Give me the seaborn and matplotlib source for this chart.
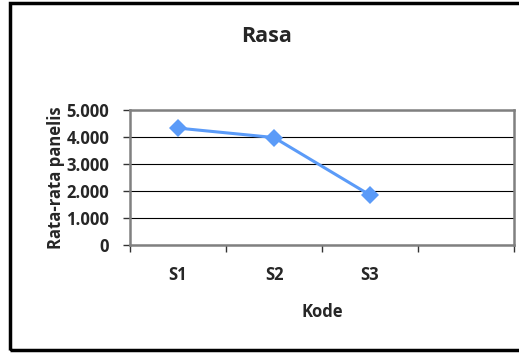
import matplotlib
matplotlib.use("Agg")
import matplotlib.pyplot as plt
from matplotlib.patches import Rectangle
from matplotlib.ticker import FixedLocator, FuncFormatter
import seaborn as sns
import pandas as pd

kode = ["S1", "S2", "S3"]
nilai = [4.33, 3.98, 1.85]
y_ticks = [0, 1, 2, 3, 4, 5]

sns.set_theme(style="white")
plt.rcParams["font.family"] = ["Open Sans", "DejaVu Sans"]
plt.rcParams["font.weight"] = "bold"

df = pd.DataFrame({"Kode": kode, "Nilai": nilai})

fig = plt.figure(figsize=(5.19, 3.54), dpi=100)
ax = fig.add_axes([130 / 519, 1 - 245 / 354, 384 / 519, 135 / 354])

sns.lineplot(data=df, x="Kode", y="Nilai", ax=ax, color="#5B9BF8", linewidth=2.2,
             marker="D", markersize=9, markeredgewidth=0, sort=False)

ax.set_xlim(-0.5, 3.5)
ax.set_ylim(0, 5)
ax.set_yticks(y_ticks)
ax.yaxis.set_major_formatter(FuncFormatter(lambda v, p: "0" if v == 0 else f"{v:.3f}"))
ax.grid(axis="y", color="black", linewidth=0.8)
ax.set_axisbelow(True)

ax.set_xticks(range(len(kode)))
ax.set_xticklabels(kode)
ax.xaxis.set_minor_locator(FixedLocator([-0.5, 0.5, 1.5, 2.5, 3.5]))
ax.tick_params(axis="x", which="major", length=0, pad=15, labelsize=12)
ax.tick_params(axis="x", which="minor", length=5, width=1, color="#333333", direction="out", bottom=True)
ax.tick_params(axis="y", length=5, width=1, color="#333333", direction="out", left=True, labelsize=12, pad=10)
for lab in ax.get_xticklabels() + ax.get_yticklabels():
    lab.set_fontweight("bold")

for s in ax.spines.values():
    s.set_color("#808080")
    s.set_linewidth(1.8)

ax.set_xlabel("Kode", fontsize=12, fontweight="bold", labelpad=14)
ax.set_ylabel("Rata-rata panelis", fontsize=12, fontweight="bold", labelpad=1)
fig.text(267 / 519, 1 - 36 / 354, "Rasa", ha="center", va="center", fontsize=15.5, fontweight="bold")

fig.patches.append(Rectangle((10 / 519, 4 / 354), 520 / 519, 347 / 354, transform=fig.transFigure,
                             fill=False, edgecolor="black", linewidth=2.5))

fig.savefig("out.png", dpi=100)
